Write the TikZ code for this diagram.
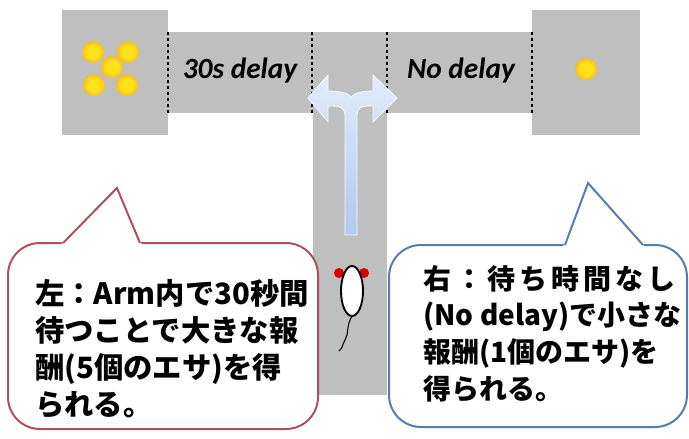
\documentclass[tikz,border=0pt]{standalone}
\usepackage{fontspec}
\usepackage{xcolor}
\newfontfamily\jpfont{Noto Sans CJK JP}
\newfontfamily\armfont{Carlito}
\definecolor{mazegray}{HTML}{BFBFBF}
\definecolor{pelletcore}{HTML}{FFE21A}
\definecolor{pelletglow}{HTML}{F5A623}
\definecolor{arrowtop}{HTML}{E2EBFA}
\definecolor{arrowbottom}{HTML}{B3C7EC}
\definecolor{leftline}{HTML}{B0505E}
\definecolor{rightline}{HTML}{5A7BB0}

%% 餌のぼかし
\pgfdeclareradialshading{pellet}{\pgfpoint{0bp}{0bp}}{%
  color(0bp)=(pelletcore); color(14bp)=(pelletcore);
  color(26bp)=(pelletglow!70!pelletcore); color(50bp)=(mazegray)}

\begin{document}
\begin{tikzpicture}[x=0.75pt, y=-0.75pt,
                    maze/.style={fill=mazegray},
                    gate/.style={black, line width=1pt, dash pattern=on 2.5pt off 2pt},
                    armlabel/.style={font=\armfont\bfseries\itshape\fontsize{22}{26}\selectfont},
                    food/.style={shading=pellet},
                    bubble/.style={fill=white, line width=1.5pt, rounded corners=24},
                    tail/.style={line width=1.5pt, line join=miter},
                    note/.style args={#1/#2}{font=\jpfont\bfseries\fontsize{#1}{#2}\selectfont,
                                 align=left, inner sep=0pt, anchor=north west}]

  \useasboundingbox (0,0) rectangle (689,439);

  %% T字迷路：ゴール箱、横のアーム、スタートの通路
  \fill[maze] (62,10) rectangle (168,135);
  \fill[maze] (532,10) rectangle (640,135);
  \fill[maze] (168,32) rectangle (532,113);
  \fill[maze] (313,32) rectangle (387,395);

  %% アームの仕切り
  \foreach \gx in {168,312,387,532}
    \draw[gate] (\gx,32) -- (\gx,113);

  \node[armlabel] (delaylabel) at (240,71) {30s delay};
  \node[armlabel] (nodelaylabel) at (461,71) {No delay};

  %% 餌（左に5個、右に1個）
  \foreach \px/\py in {93/52, 128/52, 112/67, 94/85, 127/85, 586/69}
    \shade[food] (\px,\py) circle (11);

  %% 分かれ道の矢印
  \shade[top color=arrowtop, bottom color=arrowbottom, draw=white!70!arrowtop, line width=0.6pt]
    (345,235) -- (345,116) .. controls (345,108) and (340,106) .. (333,106)
    -- (328,106) -- (328,122) -- (308,98) -- (328,75) -- (328,91)
    .. controls (340,91) and (348,93) .. (351,97)
    .. controls (354,93) and (362,91) .. (373,91)
    -- (373,75) -- (397,98) -- (373,122) -- (373,106) -- (368,106)
    .. controls (361,106) and (357,108) .. (357,116) -- (357,235) -- cycle;

  %% ラット
  \fill[red!85!black] (339,273) circle (5);
  \fill[red!85!black] (364,273) circle (5);
  \draw[fill=white, line width=1.4pt] (352,291) ellipse (11 and 25);
  \draw[line width=0.8pt] (352,316) .. controls (346,326) and (349,334) .. (345,340)
    .. controls (342,345) and (343,348) .. (339,351);

  %% 左の吹き出し
  \draw[bubble, draw=leftline] (8,243) rectangle (318,429);
  \fill[white] (61,245) -- (117,188) -- (142,245) -- cycle;
  \draw[tail, leftline] (63,243) -- (117,188) -- (140,243);
  \node[note=22/27.75] (leftnote) at (35,279)
    {左：Arm内で30秒間\\待つことで大きな報\\酬(5個のエサ)を得\\られる。};

  %% 右の吹き出し
  \draw[bubble, draw=rightline] (389,245) rectangle (687,427);
  \fill[white] (563,247) -- (588,183) -- (645,247) -- cycle;
  \draw[tail, rightline] (565,245) -- (588,183) -- (643,245);
  \node[note=21/27.5] (rightnote) at (423,265)
    {\makebox[189pt][s]{右\hfill：\hfill 待\hfill ち\hfill 時\hfill 間\hfill な\hfill し}\\
     (No delay)で小さな\\報酬(1個のエサ)を\\得られる。};

\end{tikzpicture}
\end{document}
